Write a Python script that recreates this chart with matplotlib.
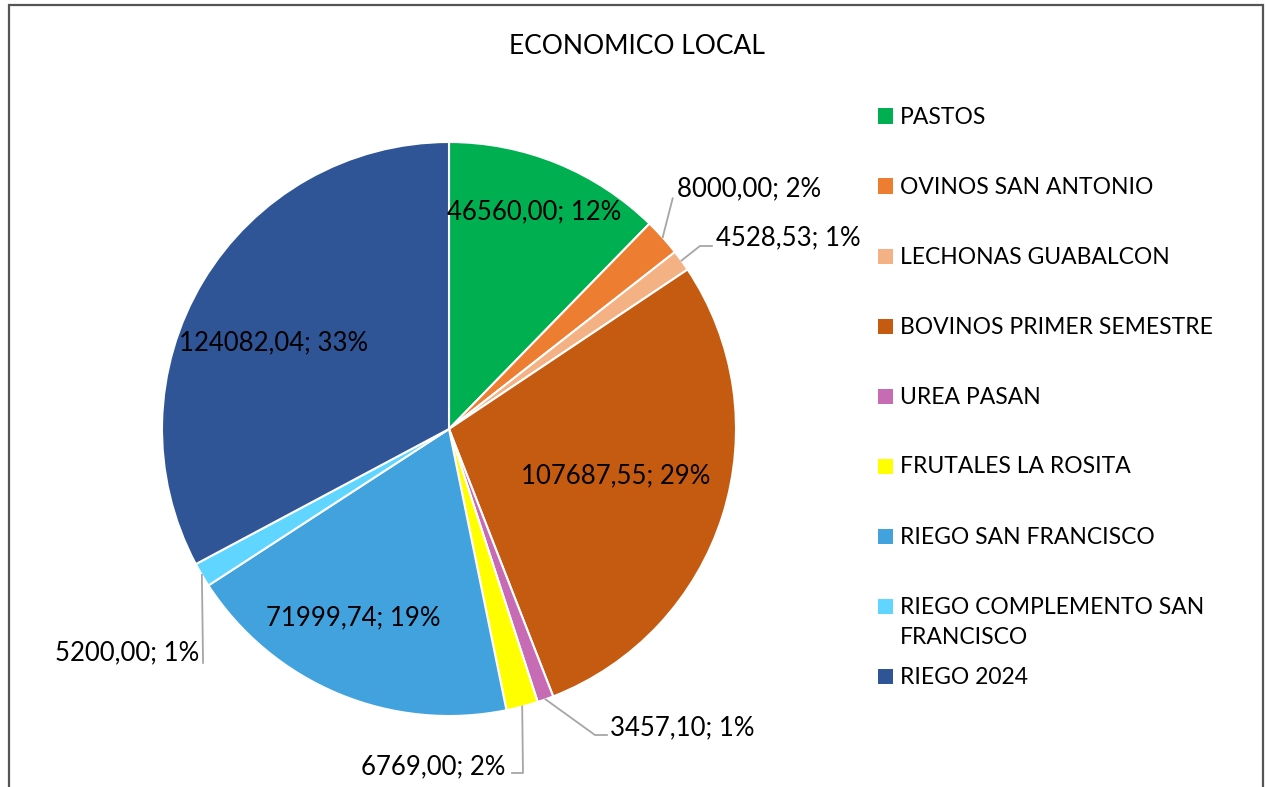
import numpy as np
import matplotlib
matplotlib.use("Agg")
import matplotlib.pyplot as plt
from matplotlib.patches import Rectangle
import textwrap

plt.rcParams['font.family'] = ['Lato', 'DejaVu Sans']

# datos
categorias = ['PASTOS', 'OVINOS SAN ANTONIO', 'LECHONAS GUABALCON',
              'BOVINOS PRIMER SEMESTRE', 'UREA PASAN', 'FRUTALES LA ROSITA',
              'RIEGO SAN FRANCISCO', 'RIEGO COMPLEMENTO SAN FRANCISCO', 'RIEGO 2024']
valores = [46560.00, 8000.00, 4528.53, 107687.55, 3457.10, 6769.00,
           71999.74, 5200.00, 124082.04]
porcentajes = [12, 2, 1, 29, 1, 2, 19, 1, 33]
colores = ['#00B050', '#ED7D31', '#F4B183', '#C55A11', '#C66BB4', '#FFFF00',
           '#41A2DD', '#5FD5FF', '#2F5597']

W, H = 1266, 787
fig = plt.figure(figsize=(W/100, H/100), dpi=100)

# marco
fig.patches.append(Rectangle((9/W, -0.05), 1254/W, 1 - 5/H + 0.05, transform=fig.transFigure,
                             fill=False, edgecolor='#555555', linewidth=1.6))

cx, cy, R = 449, 429, 287
lim = 300/R
ax = fig.add_axes([(cx-300)/W, (H-cy-300)/H, 600/W, 600/H])
wedges, _ = ax.pie(valores, colors=colores, startangle=90, counterclock=False,
                   radius=1, wedgeprops=dict(edgecolor='white', linewidth=1.5))
ax.set_xlim(-lim, lim)
ax.set_ylim(-lim, lim)
ax.set_aspect('auto')
ax.axis('off')

def etiqueta(i):
    v = f"{valores[i]:.2f}".replace('.', ',')
    return f"{v}; {porcentajes[i]}%"

fs = 18.5
# etiquetas dentro: indice -> (radio, desfase angular)
dentro = {0: (0.812, 0.8), 3: (0.605, 1.8), 6: (0.739, -4.2), 8: (0.68, 4.7)}
for i, (r, da) in dentro.items():
    w = wedges[i]
    a = np.deg2rad((w.theta1 + w.theta2) / 2 + da)
    ax.text(r*np.cos(a), r*np.sin(a), etiqueta(i), ha='center', va='center', fontsize=fs)

# etiquetas fuera: indice -> (codo, fin, texto, ha) en px relativos al borde
fuera = {
    1: ((10, 39), (10, 39), (14, 49), 'left'),
    2: ((18.5, 14.6), (30.5, 14.6), (34.5, 22.6), 'left'),
    4: ((49.5, -35.7), (61.5, -35.7), (64.5, -28.7), 'left'),
    5: ((0.8, -66.5), (-10.2, -66.5), (-17, -60.5), 'right'),
    7: ((1.2, -88), (1.2, -88), (-2.8, -78), 'right'),
}
for i, (codo, fin, txt, ha) in fuera.items():
    w = wedges[i]
    a = np.deg2rad((w.theta1 + w.theta2) / 2)
    x0, y0 = np.cos(a), np.sin(a)
    xs = [x0, x0 + codo[0]/R, x0 + fin[0]/R]
    ys = [y0, y0 + codo[1]/R, y0 + fin[1]/R]
    ax.plot(xs, ys, color='#A6A6A6', linewidth=1.3, clip_on=False)
    ax.text(x0 + txt[0]/R, y0 + txt[1]/R, etiqueta(i), ha=ha, va='center', fontsize=fs)

# titulo
fig.text(637/W, 1 - 47/H, 'ECONOMICO LOCAL', ha='center', va='center', fontsize=19)

# leyenda
y = 116
for i, nombre in enumerate(categorias):
    fig.patches.append(Rectangle((878/W, 1 - (y + 7.5)/H), 15/W, 15/H,
                                 transform=fig.transFigure, facecolor=colores[i], edgecolor='none'))
    for k, linea in enumerate(textwrap.wrap(nombre, 24)):
        fig.text(900/W, 1 - (y + 30*k + 1)/H, linea, ha='left', va='center', fontsize=16.5)
    y += 70

fig.savefig('out.png', dpi=100)
